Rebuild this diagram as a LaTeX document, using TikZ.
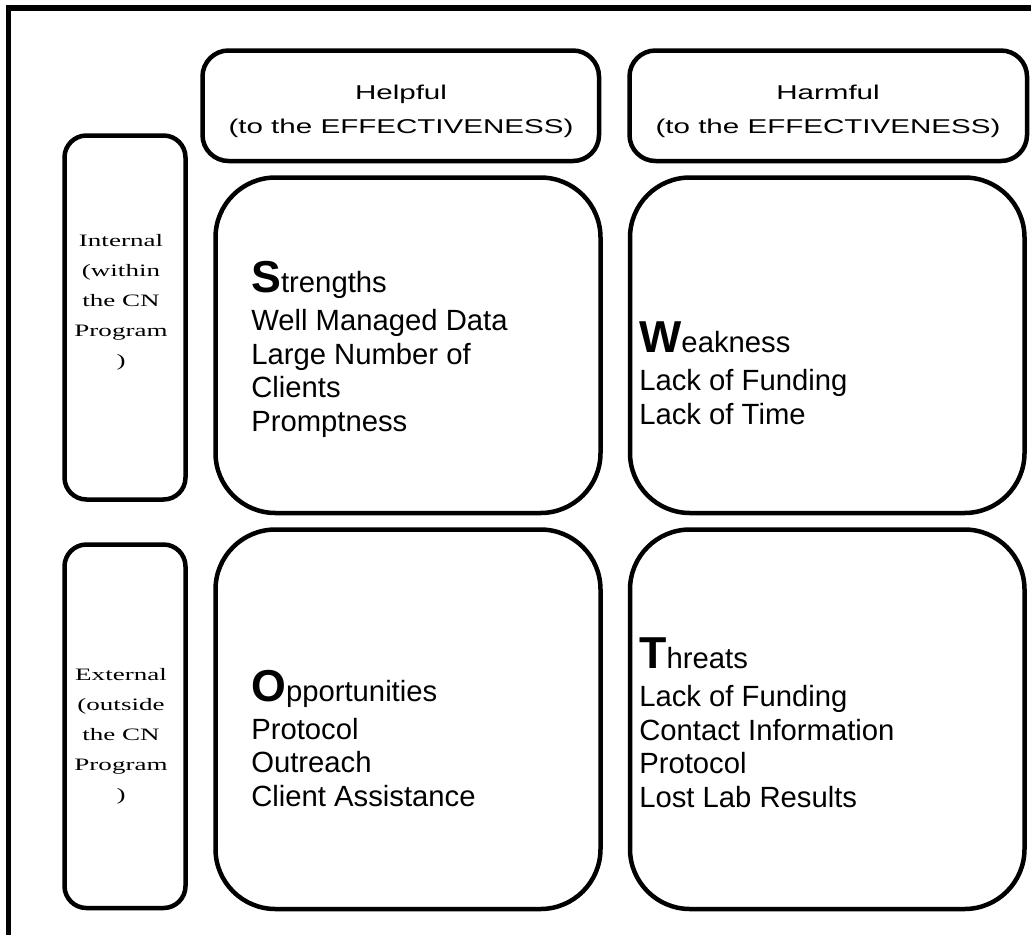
\documentclass[tikz,border=0pt]{standalone}
\usepackage{fontspec}
\setmainfont{Liberation Sans}
\newfontfamily\headfont[FakeStretch=1.48]{Liberation Sans}
\newfontfamily\sidefont[FakeStretch=1.55]{Liberation Serif}
\usetikzlibrary{positioning}

\tikzset{
  frame/.style={line width=3.6pt},
  bigbox/.style={line width=3.2pt, rounded corners=1.5cm},
  headbox/.style={line width=3.2pt, rounded corners=0.65cm},
  sidebox/.style={line width=3.2pt, rounded corners=0.55cm},
  head/.style={font=\headfont\fontsize{14.2}{23.5}\selectfont, align=center, anchor=base, inner sep=0pt},
  side/.style={font=\sidefont\fontsize{12.4}{21.3}\selectfont, align=center, anchor=base, inner sep=0pt},
  swot/.style={font=\fontsize{20.8}{23.8}\selectfont, align=left, anchor=base west, inner sep=0pt}
}
\newcommand{\initial}[1]{{\bfseries\fontsize{31.8}{31.8}\selectfont #1}}

\begin{document}
\begin{tikzpicture}[x=0.025cm, y=-0.025cm]
  \useasboundingbox (0,0) rectangle (1031,935);

  % Outer frame (only top and left edges show)
  \draw[frame] (1031,8) -- (8.5,8) -- (8.5,935);

  % Column headers
  \draw[headbox] (202.5,50.5) rectangle (599,161);
  \draw[headbox] (629.5,50.5) rectangle (1027,161);

  % Row headers
  \draw[sidebox] (64.5,135.5) rectangle (185.5,499.5);
  \draw[sidebox] (64.5,544.5) rectangle (185.5,908);

  % The four quadrants
  \draw[bigbox] (215.5,177.5) rectangle (600.5,513);   % S
  \draw[bigbox] (630,177.5) rectangle (1024.5,513);    % W
  \draw[bigbox] (215.5,529.5) rectangle (600.5,909);   % O
  \draw[bigbox] (630,529.5) rectangle (1024.5,909);    % T

  % Labels (placed at the baseline of their last line)
  \node[head] (helpful) at (401,133) {Helpful\\(to the EFFECTIVENESS)};
  \node[head] (harmful) at (828,133) {Harmful\\(to the EFFECTIVENESS)};
  \node[side] (internal) at (121,366) {Internal\\(within\\the CN\\Program\\)};
  \node[side] (external) at (121,800) {External\\(outside\\the CN\\Program\\)};

  \node[swot] (strengths) at (251,431) {\initial{S}trengths\\[3pt]Well Managed Data\\Large Number of\\Clients\\Promptness};
  \node[swot] (weakness) at (639,424) {\initial{W}eakness\\[3pt]Lack of Funding\\Lack of Time};
  \node[swot] (opportunities) at (251,806) {\initial{O}pportunities\\[3pt]Protocol\\Outreach\\Client Assistance};
  \node[swot] (threats) at (639,807) {\initial{T}hreats\\[3pt]Lack of Funding\\Contact Information\\Protocol\\Lost Lab Results};
\end{tikzpicture}
\end{document}
